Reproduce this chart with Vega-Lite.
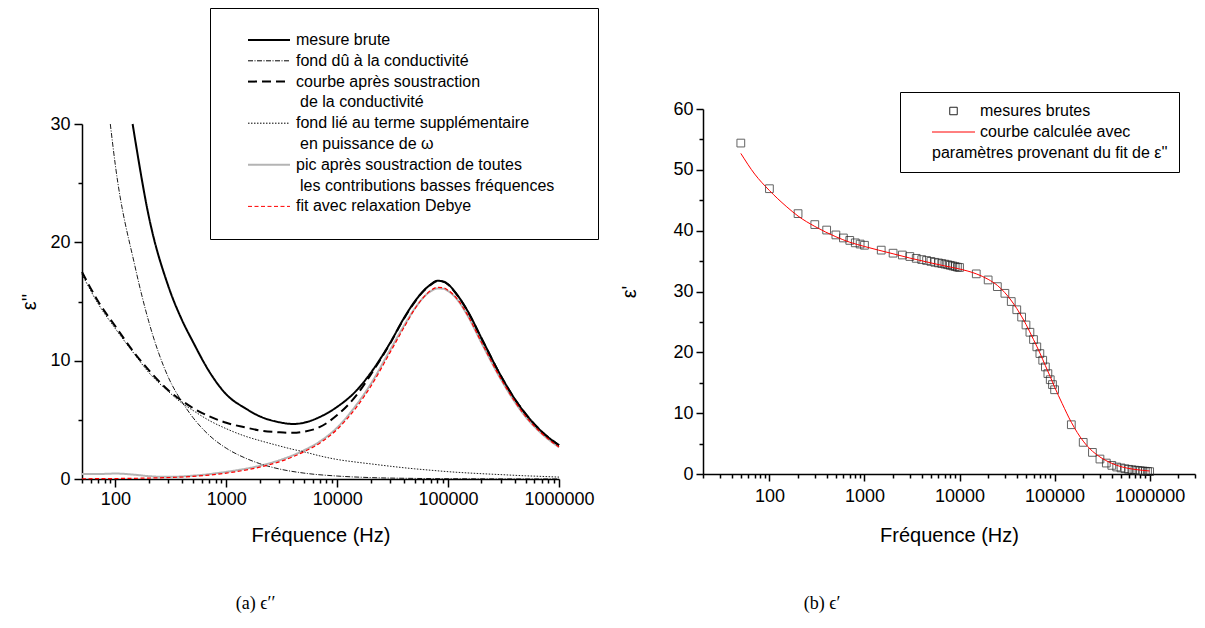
{
  "$schema": "https://vega.github.io/schema/vega-lite/v6.json",
  "background": "white",
  "padding": {"left": 19, "top": 7, "right": 5, "bottom": 5},
  "bounds": "flush",
  "spacing": 144,
  "resolve": {"scale": {"color": "independent", "strokeDash": "independent", "shape": "independent"}, "legend": {"color": "independent", "strokeDash": "independent", "shape": "independent"}},
  "config": {
    "view": {"stroke": null},
    "font": "Liberation Sans",
    "axis": {
      "domainColor": "black", "domainWidth": 1.5, "tickColor": "black", "tickWidth": 1.5,
      "labelFont": "Liberation Sans", "labelFontSize": 18, "labelColor": "black",
      "titleFont": "Liberation Sans", "titleFontSize": 20, "titleFontWeight": "normal", "titleColor": "black",
      "grid": false, "labelFlush": false, "labelOverlap": false, "labelBound": false
    }
  },
  "datasets": {
    "eps2": [
      {"f":50,"v":0.42,"s":"pic après soustraction de toutes"},{"f":70,"v":0.42,"s":"pic après soustraction de toutes"},{"f":100,"v":0.46,"s":"pic après soustraction de toutes"},{"f":150,"v":0.36,"s":"pic après soustraction de toutes"},{"f":200,"v":0.24,"s":"pic après soustraction de toutes"},{"f":300,"v":0.18,"s":"pic après soustraction de toutes"},{"f":500,"v":0.28,"s":"pic après soustraction de toutes"},{"f":1000,"v":0.6,"s":"pic après soustraction de toutes"},{"f":2000,"v":1.12,"s":"pic après soustraction de toutes"},{"f":3000,"v":1.58,"s":"pic après soustraction de toutes"},{"f":5000,"v":2.42,"s":"pic après soustraction de toutes"},{"f":7000,"v":3.18,"s":"pic après soustraction de toutes"},{"f":10000,"v":4.35,"s":"pic après soustraction de toutes"},{"f":15000,"v":6.3,"s":"pic après soustraction de toutes"},{"f":20000,"v":8.0,"s":"pic après soustraction de toutes"},{"f":30000,"v":10.9,"s":"pic après soustraction de toutes"},{"f":40000,"v":12.95,"s":"pic après soustraction de toutes"},{"f":50000,"v":14.4,"s":"pic après soustraction de toutes"},{"f":60000,"v":15.35,"s":"pic après soustraction de toutes"},{"f":70000,"v":15.88,"s":"pic après soustraction de toutes"},{"f":80000,"v":16.1,"s":"pic après soustraction de toutes"},{"f":90000,"v":16.08,"s":"pic après soustraction de toutes"},{"f":100000,"v":15.88,"s":"pic après soustraction de toutes"},{"f":120000,"v":15.2,"s":"pic après soustraction de toutes"},{"f":150000,"v":13.8,"s":"pic après soustraction de toutes"},{"f":200000,"v":11.5,"s":"pic après soustraction de toutes"},{"f":300000,"v":8.4,"s":"pic après soustraction de toutes"},{"f":400000,"v":6.5,"s":"pic après soustraction de toutes"},{"f":500000,"v":5.25,"s":"pic après soustraction de toutes"},{"f":700000,"v":3.82,"s":"pic après soustraction de toutes"},{"f":1000000,"v":2.68,"s":"pic après soustraction de toutes"},
      {"f":50,"v":17.3,"s":"fond lié au terme supplémentaire"},{"f":70,"v":14.8,"s":"fond lié au terme supplémentaire"},{"f":100,"v":12.7,"s":"fond lié au terme supplémentaire"},{"f":150,"v":10.5,"s":"fond lié au terme supplémentaire"},{"f":200,"v":9.0,"s":"fond lié au terme supplémentaire"},{"f":300,"v":7.4,"s":"fond lié au terme supplémentaire"},{"f":400,"v":6.4,"s":"fond lié au terme supplémentaire"},{"f":500,"v":5.8,"s":"fond lié au terme supplémentaire"},{"f":700,"v":4.95,"s":"fond lié au terme supplémentaire"},{"f":1000,"v":4.25,"s":"fond lié au terme supplémentaire"},{"f":1500,"v":3.6,"s":"fond lié au terme supplémentaire"},{"f":2000,"v":3.25,"s":"fond lié au terme supplémentaire"},{"f":3000,"v":2.8,"s":"fond lié au terme supplémentaire"},{"f":4000,"v":2.5,"s":"fond lié au terme supplémentaire"},{"f":5000,"v":2.3,"s":"fond lié au terme supplémentaire"},{"f":7000,"v":1.95,"s":"fond lié au terme supplémentaire"},{"f":10000,"v":1.65,"s":"fond lié au terme supplémentaire"},{"f":15000,"v":1.42,"s":"fond lié au terme supplémentaire"},{"f":20000,"v":1.28,"s":"fond lié au terme supplémentaire"},{"f":30000,"v":1.08,"s":"fond lié au terme supplémentaire"},{"f":50000,"v":0.86,"s":"fond lié au terme supplémentaire"},{"f":70000,"v":0.74,"s":"fond lié au terme supplémentaire"},{"f":100000,"v":0.62,"s":"fond lié au terme supplémentaire"},{"f":200000,"v":0.45,"s":"fond lié au terme supplémentaire"},{"f":300000,"v":0.37,"s":"fond lié au terme supplémentaire"},{"f":500000,"v":0.27,"s":"fond lié au terme supplémentaire"},{"f":700000,"v":0.22,"s":"fond lié au terme supplémentaire"},{"f":1000000,"v":0.16,"s":"fond lié au terme supplémentaire"},
      {"f":90,"v":30,"s":"fond dû à la conductivité"},{"f":100,"v":26.5,"s":"fond dû à la conductivité"},{"f":150,"v":18.0,"s":"fond dû à la conductivité"},{"f":200,"v":13.3,"s":"fond dû à la conductivité"},{"f":300,"v":8.6,"s":"fond dû à la conductivité"},{"f":400,"v":6.5,"s":"fond dû à la conductivité"},{"f":500,"v":5.2,"s":"fond dû à la conductivité"},{"f":700,"v":3.7,"s":"fond dû à la conductivité"},{"f":1000,"v":2.6,"s":"fond dû à la conductivité"},{"f":1500,"v":1.75,"s":"fond dû à la conductivité"},{"f":2000,"v":1.3,"s":"fond dû à la conductivité"},{"f":3000,"v":0.85,"s":"fond dû à la conductivité"},{"f":5000,"v":0.5,"s":"fond dû à la conductivité"},{"f":10000,"v":0.25,"s":"fond dû à la conductivité"},{"f":20000,"v":0.12,"s":"fond dû à la conductivité"},{"f":50000,"v":0.05,"s":"fond dû à la conductivité"},{"f":100000,"v":0.025,"s":"fond dû à la conductivité"},{"f":1000000,"v":0.003,"s":"fond dû à la conductivité"},
      {"f":50,"v":17.5,"s":"courbe après soustraction"},{"f":70,"v":15.0,"s":"courbe après soustraction"},{"f":100,"v":12.9,"s":"courbe après soustraction"},{"f":150,"v":10.6,"s":"courbe après soustraction"},{"f":200,"v":9.2,"s":"courbe après soustraction"},{"f":300,"v":7.5,"s":"courbe après soustraction"},{"f":400,"v":6.6,"s":"courbe après soustraction"},{"f":500,"v":6.0,"s":"courbe après soustraction"},{"f":700,"v":5.3,"s":"courbe après soustraction"},{"f":1000,"v":4.75,"s":"courbe après soustraction"},{"f":1500,"v":4.35,"s":"courbe après soustraction"},{"f":2000,"v":4.1,"s":"courbe après soustraction"},{"f":3000,"v":3.95,"s":"courbe après soustraction"},{"f":4000,"v":3.9,"s":"courbe après soustraction"},{"f":5000,"v":4.0,"s":"courbe après soustraction"},{"f":7000,"v":4.4,"s":"courbe après soustraction"},{"f":10000,"v":5.4,"s":"courbe après soustraction"},{"f":15000,"v":7.1,"s":"courbe après soustraction"},{"f":20000,"v":8.8,"s":"courbe après soustraction"},{"f":30000,"v":11.45,"s":"courbe après soustraction"},{"f":40000,"v":13.55,"s":"courbe après soustraction"},{"f":50000,"v":14.95,"s":"courbe après soustraction"},{"f":60000,"v":15.88,"s":"courbe après soustraction"},{"f":70000,"v":16.43,"s":"courbe après soustraction"},{"f":80000,"v":16.73,"s":"courbe après soustraction"},{"f":90000,"v":16.68,"s":"courbe après soustraction"},{"f":100000,"v":16.43,"s":"courbe après soustraction"},{"f":120000,"v":15.58,"s":"courbe après soustraction"},{"f":150000,"v":14.18,"s":"courbe après soustraction"},{"f":200000,"v":11.88,"s":"courbe après soustraction"},{"f":300000,"v":8.69,"s":"courbe après soustraction"},{"f":400000,"v":6.74,"s":"courbe après soustraction"},{"f":500000,"v":5.5,"s":"courbe après soustraction"},{"f":700000,"v":4.0,"s":"courbe après soustraction"},{"f":1000000,"v":2.85,"s":"courbe après soustraction"},
      {"f":143,"v":30,"s":"mesure brute"},{"f":150,"v":28.8,"s":"mesure brute"},{"f":200,"v":22.2,"s":"mesure brute"},{"f":300,"v":16.3,"s":"mesure brute"},{"f":400,"v":13.4,"s":"mesure brute"},{"f":500,"v":11.6,"s":"mesure brute"},{"f":700,"v":9.1,"s":"mesure brute"},{"f":1000,"v":7.15,"s":"mesure brute"},{"f":1500,"v":5.95,"s":"mesure brute"},{"f":2000,"v":5.3,"s":"mesure brute"},{"f":3000,"v":4.8,"s":"mesure brute"},{"f":4000,"v":4.65,"s":"mesure brute"},{"f":5000,"v":4.75,"s":"mesure brute"},{"f":7000,"v":5.25,"s":"mesure brute"},{"f":10000,"v":6.1,"s":"mesure brute"},{"f":15000,"v":7.5,"s":"mesure brute"},{"f":20000,"v":8.95,"s":"mesure brute"},{"f":30000,"v":11.5,"s":"mesure brute"},{"f":40000,"v":13.6,"s":"mesure brute"},{"f":50000,"v":15.0,"s":"mesure brute"},{"f":60000,"v":15.9,"s":"mesure brute"},{"f":70000,"v":16.45,"s":"mesure brute"},{"f":80000,"v":16.75,"s":"mesure brute"},{"f":90000,"v":16.7,"s":"mesure brute"},{"f":100000,"v":16.45,"s":"mesure brute"},{"f":120000,"v":15.6,"s":"mesure brute"},{"f":150000,"v":14.2,"s":"mesure brute"},{"f":200000,"v":11.9,"s":"mesure brute"},{"f":300000,"v":8.7,"s":"mesure brute"},{"f":400000,"v":6.75,"s":"mesure brute"},{"f":500000,"v":5.5,"s":"mesure brute"},{"f":700000,"v":4.0,"s":"mesure brute"},{"f":1000000,"v":2.85,"s":"mesure brute"},
      {"f":50,"v":0.02,"s":"fit avec relaxation Debye"},{"f":100,"v":0.04,"s":"fit avec relaxation Debye"},{"f":200,"v":0.08,"s":"fit avec relaxation Debye"},{"f":500,"v":0.22,"s":"fit avec relaxation Debye"},{"f":1000,"v":0.5,"s":"fit avec relaxation Debye"},{"f":2000,"v":1.0,"s":"fit avec relaxation Debye"},{"f":3000,"v":1.45,"s":"fit avec relaxation Debye"},{"f":5000,"v":2.3,"s":"fit avec relaxation Debye"},{"f":7000,"v":3.05,"s":"fit avec relaxation Debye"},{"f":10000,"v":4.2,"s":"fit avec relaxation Debye"},{"f":15000,"v":6.1,"s":"fit avec relaxation Debye"},{"f":20000,"v":7.8,"s":"fit avec relaxation Debye"},{"f":30000,"v":10.7,"s":"fit avec relaxation Debye"},{"f":40000,"v":12.8,"s":"fit avec relaxation Debye"},{"f":50000,"v":14.35,"s":"fit avec relaxation Debye"},{"f":60000,"v":15.35,"s":"fit avec relaxation Debye"},{"f":70000,"v":15.95,"s":"fit avec relaxation Debye"},{"f":80000,"v":16.2,"s":"fit avec relaxation Debye"},{"f":90000,"v":16.17,"s":"fit avec relaxation Debye"},{"f":100000,"v":15.95,"s":"fit avec relaxation Debye"},{"f":120000,"v":15.25,"s":"fit avec relaxation Debye"},{"f":150000,"v":13.85,"s":"fit avec relaxation Debye"},{"f":200000,"v":11.55,"s":"fit avec relaxation Debye"},{"f":300000,"v":8.45,"s":"fit avec relaxation Debye"},{"f":400000,"v":6.55,"s":"fit avec relaxation Debye"},{"f":500000,"v":5.3,"s":"fit avec relaxation Debye"},{"f":700000,"v":3.85,"s":"fit avec relaxation Debye"},{"f":1000000,"v":2.7,"s":"fit avec relaxation Debye"}
    ],
    "pts": [
      {"f":50,"v":54.4},{"f":100,"v":46.9},{"f":200,"v":42.8},{"f":300,"v":41.0},{"f":400,"v":40.1},{"f":500,"v":39.3},{"f":600,"v":38.8},{"f":700,"v":38.4},{"f":800,"v":38.0},{"f":900,"v":37.8},{"f":1000,"v":37.6},
      {"f":1500,"v":36.8},{"f":2000,"v":36.3},{"f":2500,"v":36.0},{"f":3000,"v":35.75},{"f":3500,"v":35.45},{"f":4000,"v":35.25},{"f":4500,"v":35.1},{"f":5000,"v":34.95},{"f":5500,"v":34.8},{"f":6000,"v":34.7},{"f":6500,"v":34.6},{"f":7000,"v":34.5},{"f":7500,"v":34.4},{"f":8000,"v":34.3},{"f":8500,"v":34.2},{"f":9000,"v":34.1},{"f":9500,"v":34.0},{"f":10000,"v":33.95},
      {"f":15000,"v":32.9},{"f":20000,"v":31.9},{"f":25000,"v":30.8},{"f":30000,"v":29.7},{"f":35000,"v":28.35},{"f":40000,"v":27.0},{"f":45000,"v":25.8},{"f":50000,"v":24.5},{"f":55000,"v":23.3},{"f":60000,"v":22.1},{"f":65000,"v":20.9},{"f":70000,"v":19.8},{"f":75000,"v":18.7},{"f":80000,"v":17.6},{"f":85000,"v":16.5},{"f":90000,"v":15.5},{"f":95000,"v":14.7},{"f":100000,"v":13.85},
      {"f":150000,"v":8.1},{"f":200000,"v":5.2},{"f":250000,"v":3.55},{"f":300000,"v":2.46},{"f":350000,"v":1.8},{"f":400000,"v":1.42},{"f":450000,"v":1.15},{"f":500000,"v":1.0},{"f":550000,"v":0.87},{"f":600000,"v":0.77},{"f":650000,"v":0.7},{"f":700000,"v":0.63},{"f":750000,"v":0.58},{"f":800000,"v":0.53},{"f":850000,"v":0.49},{"f":900000,"v":0.45},{"f":950000,"v":0.42},{"f":1000000,"v":0.39}
    ],
    "fit": [
      {"f":50,"v":52.7,"s":"courbe calculée avec"},{"f":70,"v":49.3,"s":"courbe calculée avec"},{"f":100,"v":46.6,"s":"courbe calculée avec"},{"f":150,"v":44.0,"s":"courbe calculée avec"},{"f":200,"v":42.4,"s":"courbe calculée avec"},{"f":300,"v":40.7,"s":"courbe calculée avec"},{"f":500,"v":39.0,"s":"courbe calculée avec"},{"f":700,"v":38.1,"s":"courbe calculée avec"},{"f":1000,"v":37.4,"s":"courbe calculée avec"},{"f":2000,"v":36.2,"s":"courbe calculée avec"},{"f":3000,"v":35.5,"s":"courbe calculée avec"},{"f":5000,"v":34.7,"s":"courbe calculée avec"},{"f":7000,"v":34.2,"s":"courbe calculée avec"},{"f":10000,"v":33.7,"s":"courbe calculée avec"},{"f":15000,"v":32.9,"s":"courbe calculée avec"},{"f":20000,"v":32.0,"s":"courbe calculée avec"},{"f":25000,"v":31.0,"s":"courbe calculée avec"},{"f":30000,"v":29.8,"s":"courbe calculée avec"},{"f":40000,"v":27.2,"s":"courbe calculée avec"},{"f":50000,"v":24.6,"s":"courbe calculée avec"},{"f":60000,"v":22.1,"s":"courbe calculée avec"},{"f":70000,"v":19.9,"s":"courbe calculée avec"},{"f":80000,"v":17.8,"s":"courbe calculée avec"},{"f":90000,"v":16.0,"s":"courbe calculée avec"},{"f":100000,"v":14.3,"s":"courbe calculée avec"},{"f":120000,"v":11.6,"s":"courbe calculée avec"},{"f":150000,"v":8.5,"s":"courbe calculée avec"},{"f":200000,"v":5.4,"s":"courbe calculée avec"},{"f":250000,"v":3.75,"s":"courbe calculée avec"},{"f":300000,"v":2.8,"s":"courbe calculée avec"},{"f":400000,"v":1.75,"s":"courbe calculée avec"},{"f":500000,"v":1.2,"s":"courbe calculée avec"},{"f":700000,"v":0.75,"s":"courbe calculée avec"},{"f":1000000,"v":0.5,"s":"courbe calculée avec"}
    ]
  },
  "hconcat": [
    {
      "width": 477,
      "height": 370,
      "title": {"text": "(a) ϵ′′", "orient": "bottom", "frame": "group", "anchor": "middle", "dx": -65, "offset": 50, "font": "Liberation Serif", "fontSize": 18, "fontWeight": "normal", "color": "black"},
      "data": {"name": "eps2"},
      "layer": [
        {
          "transform": [{"filter": "datum.s !== 'fit avec relaxation Debye'"}],
          "mark": {"type": "line", "interpolate": "monotone"},
          "encoding": {
            "x": {"field": "f", "type": "quantitative", "scale": {"type": "log", "domain": [50, 1000000], "nice": false},
                  "axis": {"orient": "bottom", "values": [100, 1000, 10000, 100000, 1000000], "format": "d", "tickSize": 8, "labelPadding": 3, "title": "Fréquence (Hz)", "titlePadding": 17}},
            "y": {"field": "v", "type": "quantitative", "scale": {"domain": [0, 30], "range": [370, 15], "nice": false, "zero": false},
                  "axis": {"orient": "left", "values": [0, 10, 20, 30], "tickSize": 8, "labelPadding": 4, "title": "ε''", "titlePadding": 10}},
            "color": {"field": "s", "type": "nominal",
                      "scale": {"domain": ["mesure brute", "fond dû à la conductivité", "courbe après soustraction", "de la conductivité", "fond lié au terme supplémentaire", "en puissance de ω", "pic après soustraction de toutes", "les contributions basses fréquences", "fit avec relaxation Debye"],
                                "range": ["#000000", "#000000", "#000000", "transparent", "#000000", "transparent", "#b4b4b4", "transparent", "#ff0000"]},
                      "legend": {"title": " ", "titleOrient": "right", "titlePadding": 20, "orient": "none", "legendX": 128, "legendY": -101, "padding": 24, "symbolType": "stroke", "symbolSize": 1764, "symbolOffset": 27, "labelOffset": 19, "rowPadding": 4.8, "strokeColor": "black", "fillColor": "white", "labelFont": "Liberation Sans", "labelFontSize": 16, "labelColor": "black", "labelLimit": 500,
                                 "encode": {"labels": {"update": {"dx": {"signal": "indexof(['de la conductivité','en puissance de ω','les contributions basses fréquences'], datum.value) >= 0 ? 4 : 0"}}},
                                            "symbols": {"update": {"strokeWidth": {"signal": "indexof(['mesure brute','courbe après soustraction','pic après soustraction de toutes'], datum.value) >= 0 ? 2 : 1"}}}}}},
            "strokeDash": {"field": "s", "type": "nominal",
                      "scale": {"domain": ["mesure brute", "fond dû à la conductivité", "courbe après soustraction", "de la conductivité", "fond lié au terme supplémentaire", "en puissance de ω", "pic après soustraction de toutes", "les contributions basses fréquences", "fit avec relaxation Debye"],
                                "range": [[1, 0], [5, 1.5, 1, 1.5], [9, 5], [1, 0], [1.5, 1.5], [1, 0], [1, 0], [1, 0], [4, 2.5]]},
                      "legend": {"title": " ", "titleOrient": "right", "titlePadding": 20, "orient": "none", "legendX": 128, "legendY": -101, "padding": 24, "symbolType": "stroke", "symbolSize": 1764, "symbolOffset": 27, "labelOffset": 19, "rowPadding": 4.8, "strokeColor": "black", "fillColor": "white", "labelFont": "Liberation Sans", "labelFontSize": 16, "labelColor": "black", "labelLimit": 500,
                                 "encode": {"labels": {"update": {"dx": {"signal": "indexof(['de la conductivité','en puissance de ω','les contributions basses fréquences'], datum.value) >= 0 ? 4 : 0"}}},
                                            "symbols": {"update": {"strokeWidth": {"signal": "indexof(['mesure brute','courbe après soustraction','pic après soustraction de toutes'], datum.value) >= 0 ? 2 : 1"}}}}}},
            "strokeWidth": {"condition": {"test": "indexof(['mesure brute','courbe après soustraction','pic après soustraction de toutes'], datum.s) >= 0", "value": 2}, "value": 0.9}
          }
        },
        {
          "transform": [{"filter": "datum.s === 'fit avec relaxation Debye'"}],
          "mark": {"type": "line", "interpolate": "monotone", "strokeWidth": 1.2},
          "encoding": {
            "x": {"field": "f", "type": "quantitative", "scale": {"type": "log", "domain": [50, 1000000], "nice": false},
                  "axis": {"orient": "bottom", "values": [50, 60, 70, 80, 90, 200, 300, 400, 500, 600, 700, 800, 900, 2000, 3000, 4000, 5000, 6000, 7000, 8000, 9000, 20000, 30000, 40000, 50000, 60000, 70000, 80000, 90000, 200000, 300000, 400000, 500000, 600000, 700000, 800000, 900000], "tickSize": 4, "labels": false, "domain": false, "title": null}},
            "y": {"field": "v", "type": "quantitative", "scale": {"domain": [0, 30], "range": [370, 15], "nice": false, "zero": false},
                  "axis": {"orient": "left", "values": [5, 15, 25], "tickSize": 4, "labels": false, "domain": false, "title": null}},
            "color": {"field": "s", "type": "nominal",
                      "scale": {"domain": ["mesure brute", "fond dû à la conductivité", "courbe après soustraction", "de la conductivité", "fond lié au terme supplémentaire", "en puissance de ω", "pic après soustraction de toutes", "les contributions basses fréquences", "fit avec relaxation Debye"],
                                "range": ["#000000", "#000000", "#000000", "transparent", "#000000", "transparent", "#b4b4b4", "transparent", "#ff0000"]}},
            "strokeDash": {"field": "s", "type": "nominal",
                      "scale": {"domain": ["mesure brute", "fond dû à la conductivité", "courbe après soustraction", "de la conductivité", "fond lié au terme supplémentaire", "en puissance de ω", "pic après soustraction de toutes", "les contributions basses fréquences", "fit avec relaxation Debye"],
                                "range": [[1, 0], [5, 1.5, 1, 1.5], [9, 5], [1, 0], [1.5, 1.5], [1, 0], [1, 0], [1, 0], [4, 2.5]]}}
          }
        }
      ],
      "resolve": {"axis": {"x": "independent", "y": "independent"}}
    },
    {
      "width": 492,
      "height": 365,
      "title": {"text": "(b) ϵ′", "orient": "bottom", "frame": "group", "anchor": "middle", "dx": -127, "offset": 50, "font": "Liberation Serif", "fontSize": 18, "fontWeight": "normal", "color": "black"},
      "layer": [
        {
          "data": {"name": "pts"},
          "mark": {"type": "point", "shape": "square", "filled": false, "size": 60, "strokeWidth": 1, "color": "#222222"},
          "encoding": {
            "x": {"field": "f", "type": "quantitative", "scale": {"type": "log", "domain": [20, 3000000], "nice": false},
                  "axis": {"orient": "bottom", "values": [100, 1000, 10000, 100000, 1000000], "format": "d", "tickSize": 7, "labelPadding": 6, "title": "Fréquence (Hz)", "titlePadding": 20}},
            "y": {"field": "v", "type": "quantitative", "scale": {"domain": [0, 60], "nice": false},
                  "axis": {"orient": "left", "values": [0, 10, 20, 30, 40, 50, 60], "tickSize": 7, "labelPadding": 3, "title": "ε'", "titlePadding": 33}}
          }
        },
        {
          "data": {"name": "fit"},
          "mark": {"type": "line", "strokeWidth": 1, "interpolate": "monotone"},
          "encoding": {
            "x": {"field": "f", "type": "quantitative", "scale": {"type": "log", "domain": [20, 3000000], "nice": false},
                  "axis": {"orient": "bottom", "values": [20, 30, 40, 50, 60, 70, 80, 90, 200, 300, 400, 500, 600, 700, 800, 900, 2000, 3000, 4000, 5000, 6000, 7000, 8000, 9000, 20000, 30000, 40000, 50000, 60000, 70000, 80000, 90000, 200000, 300000, 400000, 500000, 600000, 700000, 800000, 900000, 2000000, 3000000], "tickSize": 4, "labels": false, "domain": false, "title": null}},
            "y": {"field": "v", "type": "quantitative", "scale": {"domain": [0, 60], "nice": false},
                  "axis": {"orient": "left", "values": [5, 15, 25, 35, 45, 55], "tickSize": 4, "labels": false, "domain": false, "title": null}},
            "color": {"field": "s", "type": "nominal",
                      "scale": {"domain": ["mesures brutes", "courbe calculée avec", "paramètres provenant du fit de ε''"], "range": ["#222222", "#ff0000", "transparent"]},
                      "legend": {"title": null, "orient": "none", "legendX": 197, "legendY": -17, "padding": 11, "symbolType": "stroke", "symbolSize": 1849, "symbolOffset": 34.5, "labelOffset": 18.5, "rowPadding": 5, "strokeColor": "black", "fillColor": "white", "labelFont": "Liberation Sans", "labelFontSize": 16, "labelColor": "black", "labelLimit": 500,
                                 "encode": {"labels": {"update": {"dx": {"signal": "indexof(datum.value, 'paramètres') === 0 ? -48 : 0"}}},
                                            "symbols": {"update": {"shape": {"signal": "datum.value === 'mesures brutes' ? 'square' : 'stroke'"}, "size": {"signal": "datum.value === 'courbe calculée avec' ? 1849 : 56"}, "strokeWidth": {"value": 1}, "fill": {"value": "transparent"}}}}}}
          }
        }
      ],
      "resolve": {"axis": {"x": "independent", "y": "independent"}}
    }
  ]
}
